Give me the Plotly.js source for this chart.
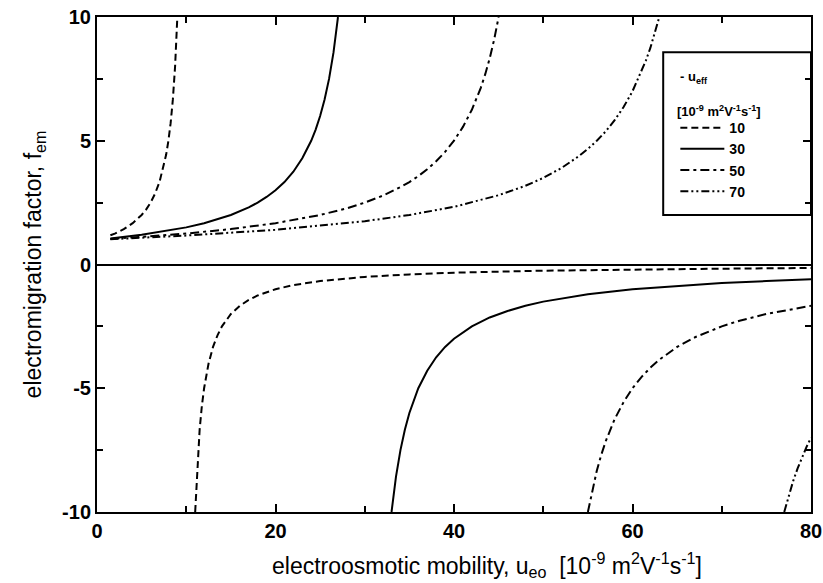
<!DOCTYPE html>
<html>
<head>
<meta charset="utf-8">
<script src="https://cdn.plot.ly/plotly-3.0.1.min.js"></script>
<style>html,body{margin:0;padding:0;background:#fff;}#chart{width:823px;height:583px;}</style>
</head>
<body>
<div id="chart"></div>
<script>
// u_eff = 10
var x10pos = [1.5, 2, 3, 4, 5, 5.5, 6, 6.5, 7, 7.5, 7.75, 8, 8.25, 8.5, 8.75, 9];
var y10pos = [1.18, 1.25, 1.43, 1.67, 2.0, 2.22, 2.5, 2.86, 3.33, 4.0, 4.44, 5.0, 5.71, 6.67, 8.0, 10];
var x10neg = [11, 11.25, 11.5, 11.75, 12, 12.5, 13, 13.5, 14, 15, 16, 17, 18, 20, 22, 25, 30, 35, 40, 50, 60, 70, 80];
var y10neg = [-10, -8.0, -6.67, -5.71, -5.0, -4.0, -3.33, -2.86, -2.5, -2.0, -1.67, -1.43, -1.25, -1.0, -0.83, -0.67, -0.5, -0.4, -0.33, -0.25, -0.2, -0.17, -0.14];
// u_eff = 30
var x30pos = [1.5, 5, 10, 12, 15, 17, 18, 19, 20, 21, 22, 23, 24, 24.5, 25, 25.5, 26, 26.5, 27];
var y30pos = [1.05, 1.2, 1.5, 1.67, 2.0, 2.31, 2.5, 2.73, 3.0, 3.33, 3.75, 4.29, 5.0, 5.45, 6.0, 6.67, 7.5, 8.57, 10];
var x30neg = [33, 33.5, 34, 34.5, 35, 36, 37, 38, 39, 40, 42, 44, 46, 48, 50, 55, 60, 65, 70, 75, 80];
var y30neg = [-10, -8.57, -7.5, -6.67, -6.0, -5.0, -4.29, -3.75, -3.33, -3.0, -2.5, -2.14, -1.88, -1.67, -1.5, -1.2, -1.0, -0.86, -0.75, -0.67, -0.6];
// u_eff = 50
var x50pos = [1.5, 10, 15, 20, 25, 28, 30, 32, 34, 35, 36, 37, 38, 39, 40, 41, 42, 42.5, 43, 43.5, 44, 44.5, 45];
var y50pos = [1.03, 1.25, 1.43, 1.67, 2.0, 2.27, 2.5, 2.78, 3.13, 3.33, 3.57, 3.85, 4.17, 4.55, 5.0, 5.56, 6.25, 6.67, 7.14, 7.69, 8.33, 9.09, 10];
var x50neg = [55, 55.5, 56, 56.5, 57, 58, 59, 60, 61, 62, 63, 65, 67, 70, 72, 75, 78, 80];
var y50neg = [-10, -9.09, -8.33, -7.69, -7.14, -6.25, -5.56, -5.0, -4.55, -4.17, -3.85, -3.33, -2.94, -2.5, -2.27, -2.0, -1.79, -1.67];
// u_eff = 70
var x70pos = [1.5, 10, 20, 30, 35, 40, 45, 48, 50, 52, 54, 55, 56, 57, 58, 59, 60, 61, 61.5, 62, 62.5, 63];
var y70pos = [1.02, 1.17, 1.4, 1.75, 2.0, 2.33, 2.8, 3.18, 3.5, 3.89, 4.38, 4.67, 5.0, 5.38, 5.83, 6.36, 7.0, 7.78, 8.24, 8.75, 9.33, 10];
var x70neg = [77, 77.5, 78, 78.5, 79, 79.5, 80];
var y70neg = [-10, -9.33, -8.75, -8.24, -7.78, -7.37, -7.0];

var legendNames = ['10', '30', '50', '70'];
var xTickVals = [0, 20, 40, 60, 80];
var yTickVals = [-10, -5, 0, 5, 10];

function join(a, b) { return a.concat([null], b); }

var dashes = ['7px,4px', 'solid', '9px,4px,3px,4px', '8px,3px,2px,3px,2px,3px'];
var xs = [join(x10pos, x10neg), join(x30pos, x30neg), join(x50pos, x50neg), join(x70pos, x70neg)];
var ys = [join(y10pos, y10neg), join(y30pos, y30neg), join(y50pos, y50neg), join(y70pos, y70neg)];

var traces = [];
for (var i = 0; i < 4; i++) {
  traces.push({
    x: xs[i], y: ys[i], type: 'scatter', mode: 'lines', name: legendNames[i],
    connectgaps: false, line: {color: '#000', width: 2, dash: dashes[i]}
  });
}

var fontFam = '"Liberation Sans", Arial, sans-serif';
var layout = {
  width: 823, height: 583,
  margin: {l: 97, r: 12, t: 17, b: 71},
  paper_bgcolor: '#fff', plot_bgcolor: '#fff',
  font: {family: fontFam, color: '#000'},
  showlegend: true,
  legend: {
    x: 0.81, y: 0.808, xanchor: 'left', yanchor: 'top',
    bgcolor: 'rgba(0,0,0,0)', borderwidth: 0,
    font: {family: fontFam, size: 14, color: '#000', weight: 'bold'},
    itemwidth: 44
  },
  shapes: [{type: 'rect', xref: 'paper', yref: 'paper', x0: 0.793, x1: 1.0, y0: 0.6, y1: 0.929,
            line: {color: '#000', width: 2}}],
  annotations: [
    {xref: 'paper', yref: 'paper', x: 0.814, y: 0.878, xanchor: 'left', yanchor: 'middle', showarrow: false,
     text: '-\u00A0u<sub>eff</sub>', font: {family: fontFam, size: 13, weight: 'bold'}},
    {xref: 'paper', yref: 'paper', x: 0.81, y: 0.811, xanchor: 'left', yanchor: 'middle', showarrow: false,
     text: '[10<sup>-9</sup> m<sup>2</sup>V<sup>-1</sup>s<sup>-1</sup>]', font: {family: fontFam, size: 13, weight: 'bold'}},
    {xref: 'paper', yref: 'paper', x: 0.546, y: -0.107, xanchor: 'center', yanchor: 'middle', showarrow: false,
     text: 'electroosmotic mobility, u<sub>eo</sub>\u00A0\u00A0[10<sup>-9</sup> m<sup>2</sup>V<sup>-1</sup>s<sup>-1</sup>]', font: {family: fontFam, size: 23}}
  ],
  xaxis: {
    range: [0, 80], tickvals: xTickVals, ticktext: xTickVals.map(String),
    ticklabeloverflow: 'allow',
    showgrid: false, zeroline: false, showline: true, linewidth: 2, linecolor: '#000', mirror: 'ticks',
    ticks: 'inside', ticklen: 8, tickwidth: 2, tickcolor: '#000',
    minor: {ticks: 'inside', ticklen: 6, tickwidth: 2, dtick: 10, tick0: 0, tickcolor: '#000', showgrid: false},
    tickfont: {family: fontFam, size: 20, weight: 'bold'}
  },
  yaxis: {
    range: [-10, 10], tickvals: yTickVals, ticktext: yTickVals.map(String),
    ticklabeloverflow: 'allow',
    showgrid: false, zeroline: true, zerolinewidth: 2, zerolinecolor: '#000',
    showline: true, linewidth: 2, linecolor: '#000', mirror: 'ticks',
    ticks: 'inside', ticklen: 8, tickwidth: 2, tickcolor: '#000',
    minor: {ticks: 'inside', ticklen: 6, tickwidth: 2, dtick: 2.5, tick0: 0, tickcolor: '#000', showgrid: false},
    tickfont: {family: fontFam, size: 20, weight: 'bold'},
    title: {text: 'electromigration factor, f<sub>em</sub>', font: {family: fontFam, size: 23}, standoff: 14}
  }
};

Plotly.newPlot('chart', traces, layout, {displayModeBar: false, staticPlot: true});
</script>
</body>
</html>
